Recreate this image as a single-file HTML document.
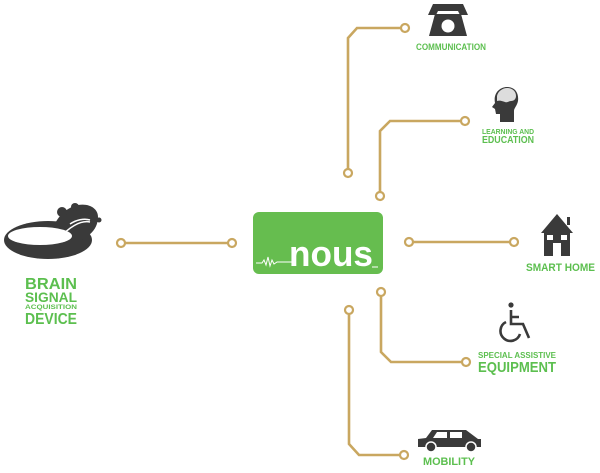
<!DOCTYPE html>
<html><head><meta charset="utf-8"><style>
html,body{margin:0;padding:0;background:#fff;width:600px;height:473px;overflow:hidden}
svg{display:block}
text{font-family:"Liberation Sans",Arial,sans-serif;fill:#5cbf4f;font-weight:bold}
</style></head><body>
<svg width="600" height="473" viewBox="0 0 600 473" xmlns="http://www.w3.org/2000/svg">
<g fill="none" stroke="#c9a760" stroke-width="2.6">
<path d="M125 243H228"/>
<path d="M348 169V38L357 28H401"/>
<path d="M380 192V131L390 121H461"/>
<path d="M413 242H510"/>
<path d="M381 296V352L391 362H462"/>
<path d="M349 314V444L359 455H400"/>
</g>
<g fill="#fff" stroke="#c9a760" stroke-width="2.2">
<circle cx="121" cy="243" r="4"/><circle cx="232" cy="243" r="4"/>
<circle cx="348" cy="173" r="4"/><circle cx="405" cy="28" r="4"/>
<circle cx="380" cy="196" r="4"/><circle cx="465" cy="121" r="4"/>
<circle cx="409" cy="242" r="4"/><circle cx="514" cy="242" r="4"/>
<circle cx="381" cy="292" r="4"/><circle cx="466" cy="362" r="4"/>
<circle cx="349" cy="310" r="4"/><circle cx="404" cy="455" r="4"/>
</g>
<!-- nous box -->
<rect x="253" y="212" width="130" height="62" rx="6" fill="#66bd4f"/>
<path d="M256 263h6l2-3 2 5 2-8 2 9 2-6 2 4 3-2h15" fill="none" stroke="#fff" stroke-width="1"/>
<text x="289" y="266" font-size="36" textLength="84" lengthAdjust="spacingAndGlyphs" style="fill:#fff">nous</text>
<line x1="372" y1="267" x2="378" y2="267" stroke="#fff" stroke-width="1"/>
<!-- brain device -->
<g fill="#3a3a3a">
<ellipse cx="48" cy="240" rx="44" ry="19"/>
<path d="M50 236c5-18 15-28 28-31 12-2 20 4 20 12 0 14-12 23-30 28z"/>
<circle cx="62" cy="212" r="5"/><circle cx="75" cy="207" r="4"/><circle cx="90" cy="210" r="3"/><circle cx="99" cy="220" r="2.5"/>
</g>
<ellipse cx="40" cy="236" rx="32" ry="9" fill="#fff"/>
<path d="M60 238c8-10 20-18 30-16M70 224c6-4 14-6 20-4" stroke="#fff" stroke-width="1.5" fill="none"/>
<text x="25" y="289" font-size="16" textLength="52" lengthAdjust="spacingAndGlyphs">BRAIN</text>
<text x="25" y="302" font-size="14" textLength="52" lengthAdjust="spacingAndGlyphs">SIGNAL</text>
<text x="25" y="309" font-size="6.5" textLength="52" lengthAdjust="spacingAndGlyphs">ACQUISITION</text>
<text x="25" y="324" font-size="16" textLength="52" lengthAdjust="spacingAndGlyphs">DEVICE</text>
<!-- phone -->
<g fill="#3a3a3a">
<path d="M428 15l5-11h30l5 11h-8l-2-4h-20l-2 4z"/>
<path d="M435 14h26l6 22h-38z"/>
</g>
<circle cx="448" cy="26" r="6.5" fill="#fff"/>
<text x="416" y="50" font-size="9" textLength="70" lengthAdjust="spacingAndGlyphs">COMMUNICATION</text>
<!-- head -->
<path d="M500 122v-8h-4l-1-5-3-2 3-4c-2-10 5-16 12-16 8 0 12 6 11 14-1 5-4 7-4 10v11z" fill="#3a3a3a"/>
<path d="M497 96c1-5 6-8 10-8 5 0 9 3 9 8 0 3-2 5-5 5-2 0-4 2-6 1-3-1-5-2-8-1z" fill="#ddd"/>
<text x="482" y="134" font-size="7" textLength="52" lengthAdjust="spacingAndGlyphs">LEARNING AND</text>
<text x="482" y="143" font-size="10" textLength="52" lengthAdjust="spacingAndGlyphs">EDUCATION</text>
<!-- house -->
<g fill="#3a3a3a">
<path d="M541 233l16-19 16 19z"/><rect x="567" y="217" width="3" height="8"/>
<rect x="544" y="232" width="26" height="24"/>
</g>
<g fill="#fff"><rect x="547" y="235" width="6" height="5"/><rect x="561" y="235" width="6" height="5"/><rect x="553" y="243" width="8" height="13"/></g>
<text x="526" y="271" font-size="11" textLength="69" lengthAdjust="spacingAndGlyphs">SMART HOME</text>
<!-- wheelchair -->
<circle cx="511" cy="305" r="2.6" fill="#3a3a3a"/>
<path d="M511 310v14h12l6 14M511 317h8M506 322a10 10 0 1 0 14 12" fill="none" stroke="#3a3a3a" stroke-width="2.6"/>
<text x="478" y="358" font-size="8" textLength="78" lengthAdjust="spacingAndGlyphs">SPECIAL ASSISTIVE</text>
<text x="478" y="372" font-size="15" textLength="78" lengthAdjust="spacingAndGlyphs">EQUIPMENT</text>
<!-- car -->
<path d="M418 447v-8l8-1 6-8h34l12 9h3v8z" fill="#3a3a3a"/>
<path d="M433 438l4-6h10v6zM450 432h12v6h-12z" fill="#fff"/>
<g fill="#3a3a3a" stroke="#fff" stroke-width="1.5"><circle cx="431" cy="447" r="5"/><circle cx="471" cy="447" r="5"/></g>
<text x="423" y="465" font-size="11" textLength="52" lengthAdjust="spacingAndGlyphs">MOBILITY</text>
</svg>
</body></html>
